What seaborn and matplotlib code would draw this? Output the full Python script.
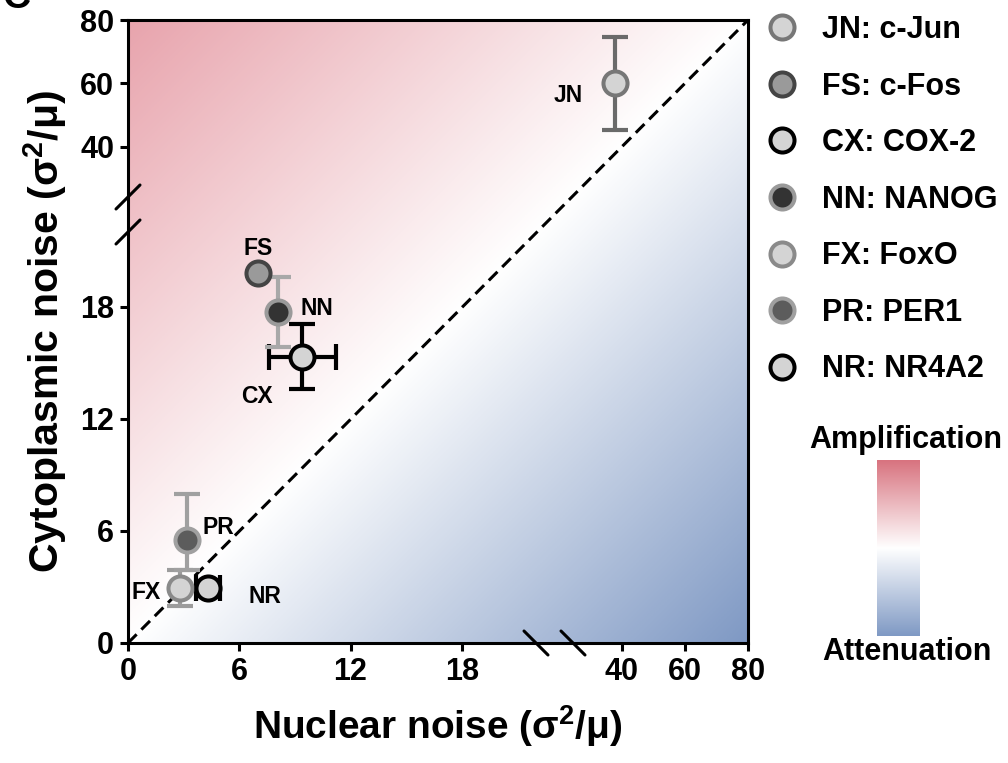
import numpy as np
import pandas as pd
import matplotlib
matplotlib.use("Agg")
import matplotlib.pyplot as plt
from matplotlib.colors import LinearSegmentedColormap
from matplotlib.lines import Line2D
import seaborn as sns

# ---------------- data ----------------
genes = ["JN", "FS", "CX", "NN", "FX", "PR", "NR"]
names = ["c-Jun", "c-Fos", "COX-2", "NANOG", "FoxO", "PER1", "NR4A2"]
nuclear = [37.8, 7.0, 9.4, 8.1, 2.8, 3.2, 4.3]
cytoplasmic = [60.0, 19.8, 15.3, 17.7, 2.95, 5.5, 2.95]
nuc_err_low = [0, 0, 1.8, 0, 0, 0, 0.65]
nuc_err_high = [0, 0, 1.8, 0, 0, 0, 0.65]
cyt_err_low = [14.6, 0, 1.7, 1.85, 0.95, 1.6, 0]
cyt_err_high = [14.5, 0, 1.8, 1.9, 0.95, 2.5, 0]
face_colors = ["#d4d4d4", "#9a9a9a", "#d4d4d4", "#333333", "#d4d4d4", "#5c5c5c", "#d4d4d4"]
edge_colors = ["#777777", "#444444", "#000000", "#9a9a9a", "#8a8a8a", "#a0a0a0", "#000000"]
err_colors = ["#6a6a6a", "#444444", "#000000", "#a8a8a8", "#9c9c9c", "#a0a0a0", "#000000"]
x_ticks = [0, 6, 12, 18, 40, 60, 80]
y_ticks = [0, 6, 12, 18, 40, 60, 80]

df = pd.DataFrame({"gene": genes, "name": names, "nuc": nuclear, "cyt": cytoplasmic})

# ---------------- style ----------------
sns.set_theme(style="ticks")
plt.rcParams["font.family"] = ["Liberation Sans", "DejaVu Sans"]
plt.rcParams["font.weight"] = "bold"
plt.rcParams["text.color"] = "black"
plt.rcParams["axes.labelcolor"] = "black"
plt.rcParams["xtick.color"] = "black"
plt.rcParams["ytick.color"] = "black"
plt.rcParams["mathtext.fontset"] = "custom"
plt.rcParams["mathtext.rm"] = "Liberation Sans:bold"
plt.rcParams["mathtext.bf"] = "Liberation Sans:bold"
plt.rcParams["mathtext.it"] = "Liberation Sans:bold:italic"

fig = plt.figure(figsize=(10.08, 7.63), dpi=100)
ax = fig.add_axes([128 / 1008, 1 - 643 / 763, 620 / 1008, 623 / 763])

# broken (piecewise-linear) scales
xv, xp = [0, 22, 24.5, 80], [0, 408, 445, 620]
yv, yp = [0, 22, 24.1, 80], [0, 411, 446, 623]
ax.set_xscale("function", functions=(lambda v: np.interp(v, xv, xp), lambda p: np.interp(p, xp, xv)))
ax.set_yscale("function", functions=(lambda v: np.interp(v, yv, yp), lambda p: np.interp(p, yp, yv)))
ax.set_xlim(0, 80)
ax.set_ylim(0, 80)

# background gradient
pink_bg = "#e8a4ad"
blue_bg = "#7f99c4"
bg_cmap = LinearSegmentedColormap.from_list("bg", [blue_bg, "#ffffff", pink_bg])
u, v = np.meshgrid(np.linspace(0, 1, 400), np.linspace(0, 1, 400))
ax.imshow(v - u, cmap=bg_cmap, vmin=-1, vmax=1, origin="lower", extent=(0, 1, 0, 1),
          transform=ax.transAxes, aspect="auto", zorder=0, interpolation="bilinear")

# diagonal
ax.plot([0, 1], [0, 1], transform=ax.transAxes, color="black", lw=2.2,
        ls=(0, (4, 2.2)), zorder=1)

# error bars + points
for i in range(len(genes)):
    xerr = [[nuc_err_low[i]], [nuc_err_high[i]]]
    yerr = [[cyt_err_low[i]], [cyt_err_high[i]]]
    ax.errorbar([nuclear[i]], [cytoplasmic[i]], xerr=xerr, yerr=yerr, fmt="none",
                ecolor=err_colors[i], elinewidth=3, capsize=9.5, capthick=3, zorder=2)
for i in range(len(genes)):
    sns.scatterplot(x=[nuclear[i]], y=[cytoplasmic[i]], ax=ax, s=300,
                    color=face_colors[i], edgecolor=edge_colors[i], linewidth=2.9,
                    zorder=3, legend=False)

# point labels
label_offsets = {"JN": (-23, -8.6, "right"), "FS": (0, 18, "center"), "CX": (-21, -28, "right"),
                 "NN": (16, 3, "left"), "FX": (-14, -3.6, "right"), "PR": (11, 9, "left"),
                 "NR": (29, -6, "left")}
for g, xx, yy in zip(genes, nuclear, cytoplasmic):
    dx, dy, ha = label_offsets[g]
    ax.annotate(g, (xx, yy), xytext=(dx, dy), textcoords="offset points",
                ha=ha, va="center", fontsize=16.5, fontweight="bold", color="black", zorder=4)

# axes styling
ax.set_xticks(x_ticks)
ax.set_yticks(y_ticks)
ax.set_xticklabels([str(t) for t in x_ticks])
ax.set_yticklabels([str(t) for t in y_ticks])
ax.tick_params(axis="both", which="major", length=6, width=2.2, labelsize=22, pad=4,
               color="black", labelcolor="black")
ax.tick_params(axis="both", which="minor", length=0)
for lab in ax.get_xticklabels() + ax.get_yticklabels():
    lab.set_fontweight("bold")
for sp in ax.spines.values():
    sp.set_linewidth(2.2)
    sp.set_color("black")
    sp.set_visible(True)
    sp.set_zorder(5)
ax.grid(False)

ax.set_xlabel("Nuclear noise (σ$^{\\mathbf{2}}$/μ)", fontsize=28, fontweight="bold",
              labelpad=12, color="black")
ax.set_ylabel("Cytoplasmic noise (σ$^{\\mathbf{2}}$/μ)", fontsize=29.5, fontweight="bold",
              labelpad=8, color="black")

# axis-break marks
for xf in [(536 - 128) / 620, (573 - 128) / 620]:
    ax.plot([xf - 12 / 620, xf + 12 / 620], [12 / 623, -12 / 623], transform=ax.transAxes,
            color="black", lw=2.2, clip_on=False, zorder=6)
for yf in [(643 - 197) / 623, (643 - 232) / 623]:
    ax.plot([-12 / 620, 12 / 620], [yf - 12 / 623, yf + 12 / 623], transform=ax.transAxes,
            color="black", lw=2.2, clip_on=False, zorder=6)

# legend
handles = [Line2D([0], [0], marker="o", ls="none", markersize=17.3, markerfacecolor=fc,
                  markeredgecolor=ec, markeredgewidth=2.9)
           for fc, ec in zip(face_colors, edge_colors)]
labels = [f"{g}: {n}" for g, n in zip(genes, names)]
leg = fig.legend(handles, labels, loc="upper left", bbox_to_anchor=(767 / 1008, 1 - 15 / 763),
                 bbox_transform=fig.transFigure, frameon=False, fontsize=22, handlelength=1.0,
                 handletextpad=0.8, labelspacing=0.87, borderpad=0, borderaxespad=0)
for t in leg.get_texts():
    t.set_fontweight("bold")
    t.set_color("black")

# colour key
cax = fig.add_axes([877 / 1008, 1 - 636 / 763, 43 / 1008, 176 / 763])
key_cmap = LinearSegmentedColormap.from_list("key", ["#7f99c4", "#ffffff", "#d8737f"])
cax.imshow(np.linspace(-1, 1, 256).reshape(-1, 1), cmap=key_cmap, origin="lower",
           aspect="auto", extent=(0, 1, 0, 1))
cax.set_axis_off()
fig.text(906 / 1008, 1 - 440 / 763, "Amplification", ha="center", va="center",
         fontsize=22, fontweight="bold", color="black")
fig.text(907 / 1008, 1 - 652 / 763, "Attenuation", ha="center", va="center",
         fontsize=22, fontweight="bold", color="black")

# panel letter (cut off at top, as in the reference)
fig.text(0.002, 1 - 8 / 763, "C", ha="left", va="baseline", fontsize=28, fontweight="bold",
         color="black")

fig.savefig("out.png", dpi=100)
